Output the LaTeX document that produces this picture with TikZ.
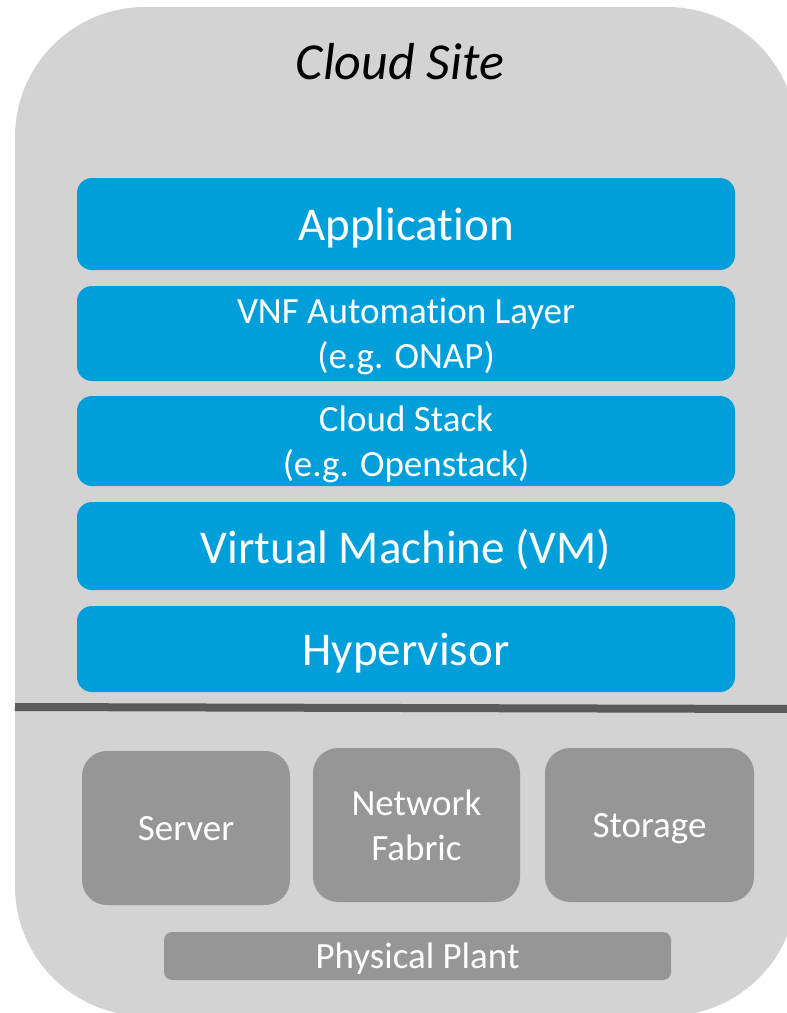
\documentclass[tikz,border=0pt]{standalone}
\usepackage{fontspec}
\setmainfont{Carlito}[Ligatures=NoCommon]
\usepackage{xcolor}
\usetikzlibrary{positioning}
\definecolor{sitegray}{HTML}{D3D3D3}
\definecolor{layerblue}{HTML}{009FDA}
\definecolor{hwgray}{HTML}{969696}
\definecolor{rulegray}{HTML}{5A5A5A}

\begin{document}
\begin{tikzpicture}[x=1pt, y=-1pt,
  layer/.style={fill=layerblue, rounded corners=15pt, inner sep=0pt, align=center,
                minimum width=658pt, text=white, text depth=0pt},
  biglayer/.style={layer, font=\fontsize{47}{56}\selectfont},
  smalllayer/.style={layer, font=\fontsize{37}{45}\selectfont},
  hwbox/.style={fill=hwgray, rounded corners=25pt, inner sep=0pt, align=center,
                minimum width=208pt, minimum height=154pt, text=white, text depth=0pt,
                font=\fontsize{37}{45}\selectfont},
  plantbox/.style={hwbox, rounded corners=8pt, minimum width=507pt, minimum height=48pt},
  divider/.style={draw=rulegray, line width=8pt}
]
\useasboundingbox (0,0) rectangle (787,1013);
\clip (0,0) rectangle (787,1013);

% site outline
\fill[sitegray, rounded corners=130pt] (15,7) rectangle (797,1016);
\node[font=\fontsize{52}{62}\selectfont\itshape] (title) at (400,62) {Cloud Site};

% software layers
\node[biglayer, minimum height=92pt] (app) at (406,224) {Application};
\node[smalllayer, minimum height=95pt] (vnf) at (406,333.5) {VNF Automation Layer\\(e.g. ONAP)};
\node[smalllayer, minimum height=90pt] (stack) at (406,441) {Cloud Stack\\(e.g. Openstack)};
\node[biglayer, minimum height=88pt] (vm) at (406,546) {Virtual Machine (VM)};
\node[biglayer, minimum height=86pt] (hyp) at (406,649) {Hypervisor};

% hardware / software split
\draw[divider] (15,707) -- (797,709);

% physical resources
\node[hwbox] (server) at (186,828) {Server};
\node[hwbox, minimum width=207pt] (fabric) at (416.5,825) {Network\\Fabric};
\node[hwbox, minimum width=209pt] (storage) at (649.5,825) {Storage};
\node[plantbox] (plant) at (417.5,956) {Physical Plant};
\end{tikzpicture}
\end{document}
